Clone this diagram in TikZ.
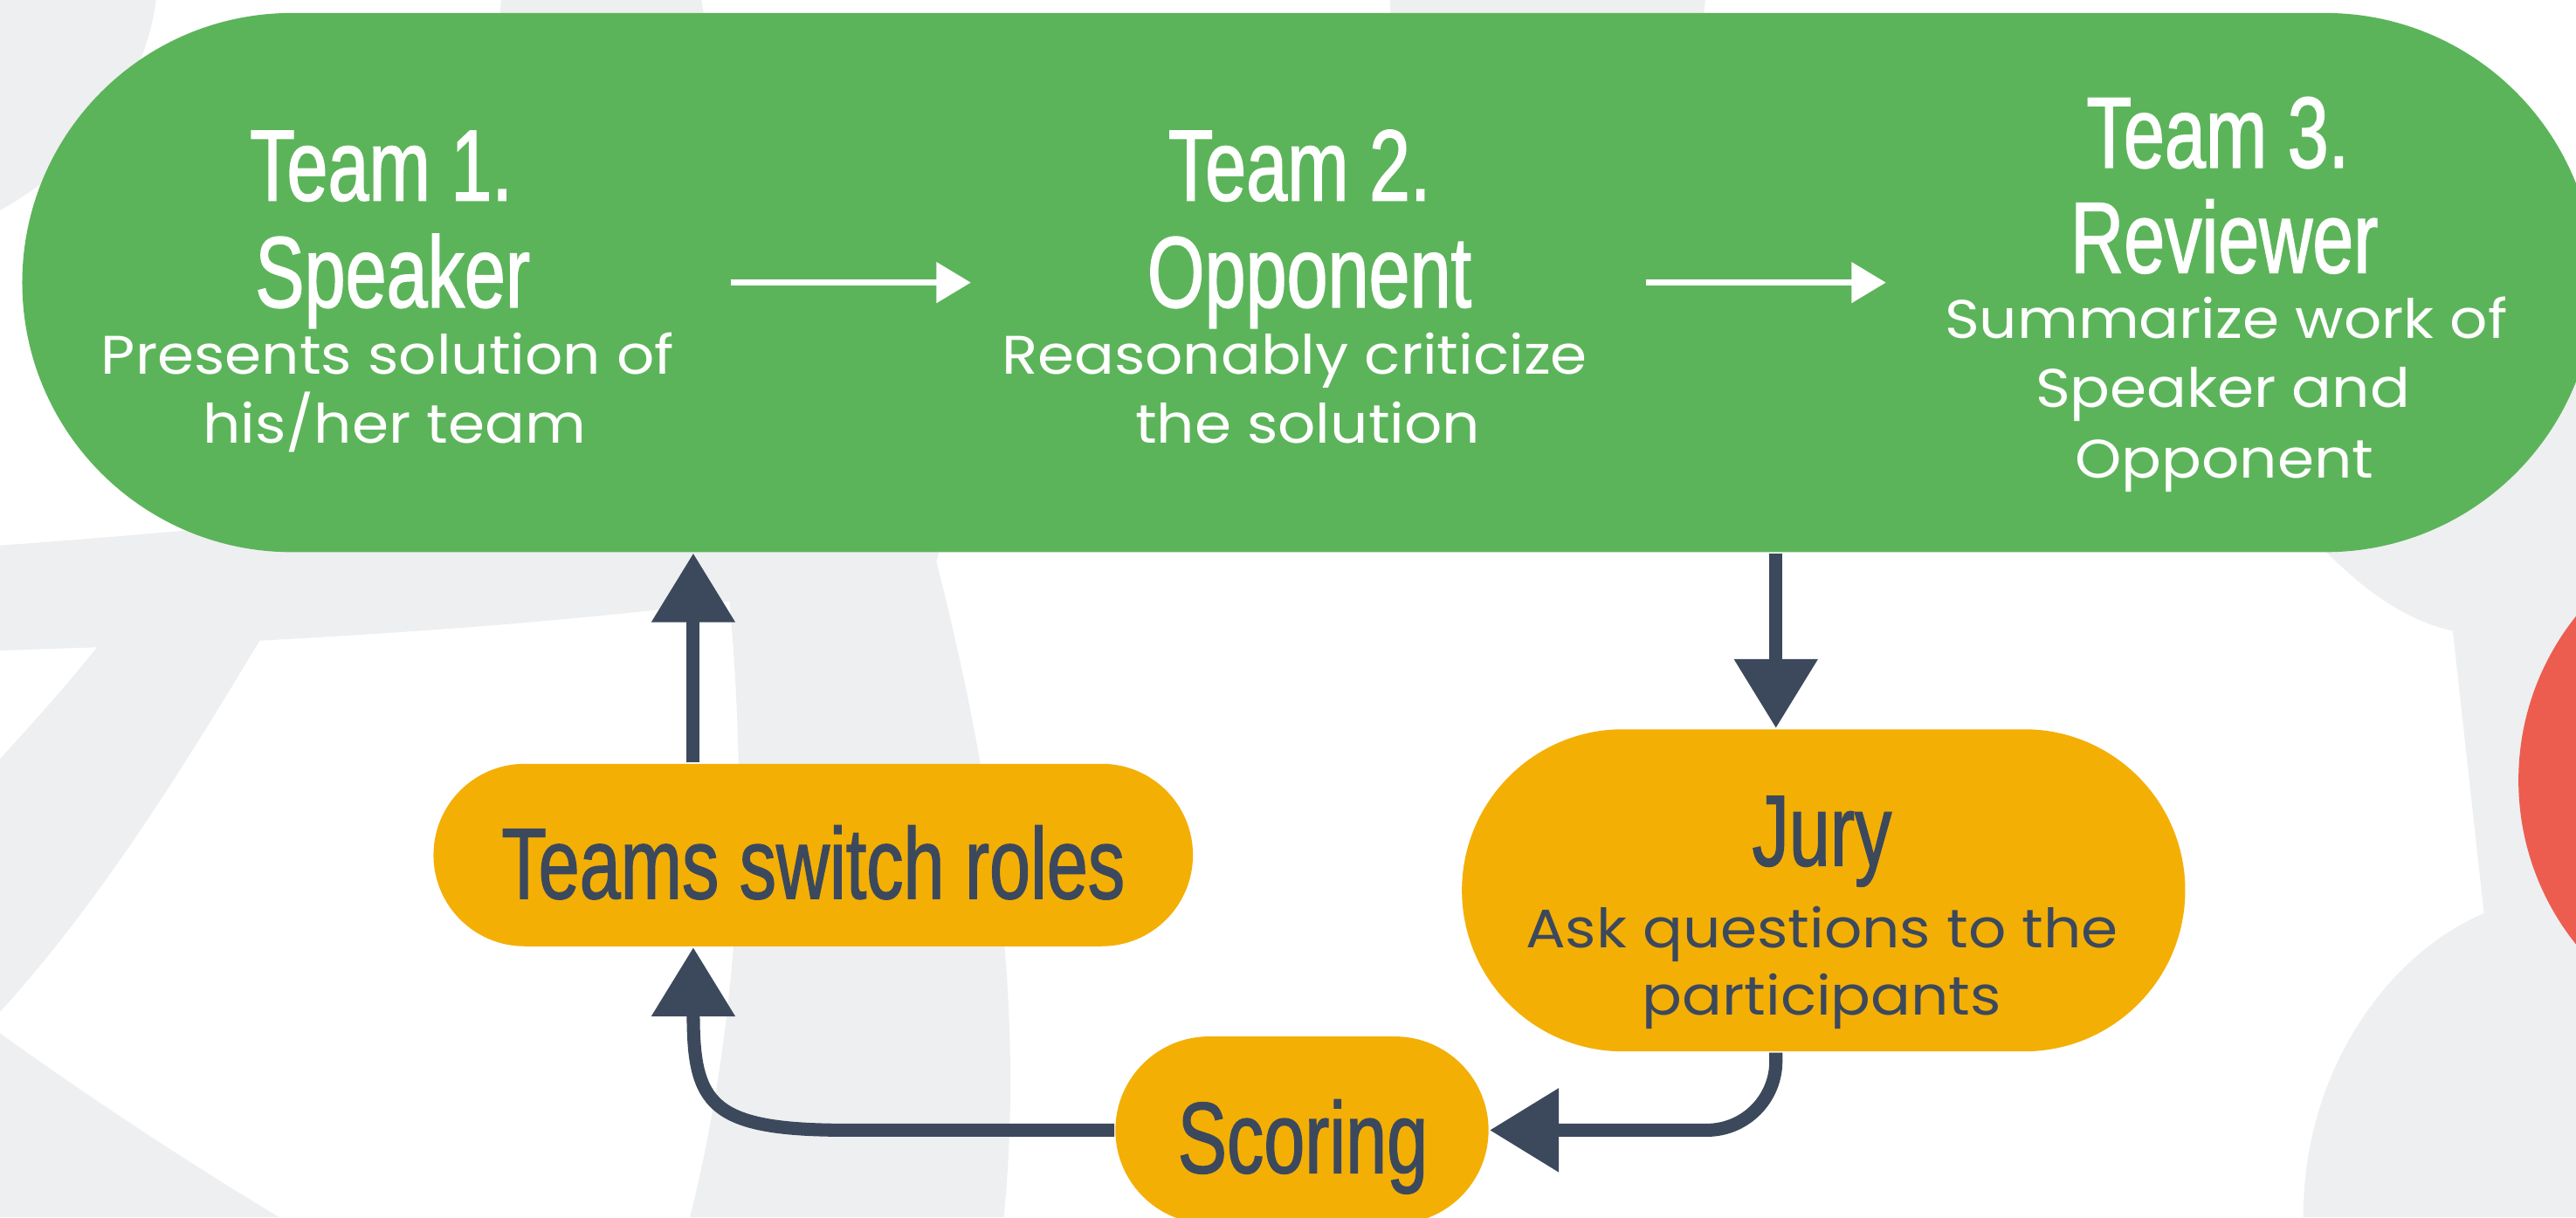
\documentclass[tikz,border=0pt]{standalone}
\usepackage{fontspec}
\usetikzlibrary{shapes.misc,arrows.meta}
\newfontfamily\oswf[FakeStretch=0.73,FakeBold=1.2]{Liberation Sans}
\newfontfamily\montf[FakeStretch=1.09]{Poppins}
\definecolor{bggrey}{RGB}{238,239,241}
\definecolor{boxgreen}{RGB}{92,180,90}
\definecolor{boxyellow}{RGB}{244,175,5}
\definecolor{darkslate}{RGB}{60,73,92}
\definecolor{dotred}{RGB}{236,93,80}
\tikzset{
  stadium/.style={rounded rectangle, inner sep=0pt, draw=none},
  titletxt/.style={font=\oswf\fontsize{17.5}{18}\selectfont, inner sep=0pt, anchor=base},
  bodytxt/.style={font=\montf\fontsize{9.4}{11}\selectfont, inner sep=0pt, anchor=base},
  whitearrow/.style={draw=white, line width=0.04cm, -{Triangle[length=0.21cm,width=0.24cm]}},
  darkarrow/.style={draw=darkslate, line width=0.08cm, -{Triangle[length=0.42cm,width=0.49cm]}},
}
\begin{document}
\begin{tikzpicture}[x=0.01cm,y=-0.01cm]
\useasboundingbox (0,0) rectangle (1568,741);
\clip (0,0) rectangle (1568,741);
\fill[white] (0,0) rectangle (1568,741);
% background shapes
\fill[bggrey] (0,0) -- (95,0) .. controls (88,55) and (50,100) .. (0,128) -- cycle;
\fill[bggrey] (305,0) -- (427,0) -- (440,80) -- (300,80) -- cycle;
\fill[bggrey] (846,0) -- (1038,0) -- (1030,80) -- (850,80) -- cycle;
\fill[bggrey] (0,332) .. controls (100,325) and (200,315) .. (350,300) -- (580,300) -- (570,342)
  .. controls (600,460) and (625,600) .. (611,741) -- (420,741)
  .. controls (445,640) and (458,520) .. (444,366)
  .. controls (350,378) and (250,385) .. (158,390)
  .. controls (110,470) and (60,550) .. (0,616) -- (0,462)
  .. controls (20,440) and (40,418) .. (59,394) -- (0,396) -- cycle;
\fill[bggrey] (0,629) .. controls (50,665) and (110,705) .. (170,741) -- (0,741) -- cycle;
\fill[bggrey] (1568,200) -- (1416,320) -- (1416,336) .. controls (1440,360) and (1465,378) .. (1493,384)
  -- (1512,556) .. controls (1455,580) and (1402,650) .. (1402,741) -- (1568,741) -- cycle;
\fill[dotred] (1693,475) circle[radius=160];
% main boxes
\node[stadium, fill=boxgreen, minimum width=15.65cm, minimum height=3.28cm] (green) at (796.5,172) {};
\node[stadium, fill=boxyellow, minimum width=4.62cm, minimum height=1.11cm] (switch) at (495,520.5) {};
\node[stadium, fill=boxyellow, minimum width=4.40cm, minimum height=1.96cm] (jury) at (1110,542) {};
\node[stadium, fill=boxyellow, minimum width=2.27cm, minimum height=1.14cm] (scoring) at (792.5,688) {};
% texts in green
\node[titletxt, text=white] (t1a) at (232,122) {Team 1.};
\node[titletxt, text=white] (t1b) at (239,187) {Speaker};
\node[bodytxt, text=white] (t1c) at (236,228) {Presents solution of};
\node[bodytxt, text=white] (t1d) at (240,270) {his/her team};
\node[titletxt, text=white] (t2a) at (791,122) {Team 2.};
\node[titletxt, text=white] (t2b) at (797,187) {Opponent};
\node[bodytxt, text=white] (t2c) at (788,228) {Reasonably criticize};
\node[bodytxt, text=white] (t2d) at (796,270) {the solution};
\node[titletxt, text=white] (t3a) at (1350,102) {Team 3.};
\node[titletxt, text=white] (t3b) at (1354,166) {Reviewer};
\node[bodytxt, text=white] (t3c) at (1355,206) {Summarize work of};
\node[bodytxt, text=white] (t3d) at (1353,248) {Speaker and};
\node[bodytxt, text=white] (t3e) at (1354,291) {Opponent};
% texts in yellow boxes
\node[titletxt, text=darkslate] (sw) at (495,547) {Teams switch roles};
\node[titletxt, text=darkslate] (ju) at (1109,527) {Jury};
\node[bodytxt, text=darkslate] (jub) at (1109,577) {Ask questions to the};
\node[bodytxt, text=darkslate] (juc) at (1109,618) {participants};
\node[titletxt, text=darkslate] (sc) at (793,714) {Scoring};
% white arrows
\coordinate (w1s) at (445,172);
\coordinate (w1e) at (591,172);
\coordinate (w2s) at (1002,172);
\coordinate (w2e) at (1148,172);
\draw[whitearrow] (w1s) -- (w1e);
\draw[whitearrow] (w2s) -- (w2e);
% dark arrows
\coordinate (ax) at (1081,0);
\coordinate (bx) at (422,0);
\coordinate (dbend) at (515,688);
\draw[darkarrow] (green.south -| ax) -- (jury.north -| ax);
\draw[darkarrow, rounded corners=0.42cm] (jury.south -| ax) |- (scoring.east);
\draw[darkarrow] (scoring.west) -- (dbend) .. controls (432,688) and (422,672) .. (switch.south -| bx);
\draw[darkarrow] (switch.north -| bx) -- (green.south -| bx);
\end{tikzpicture}
\end{document}
